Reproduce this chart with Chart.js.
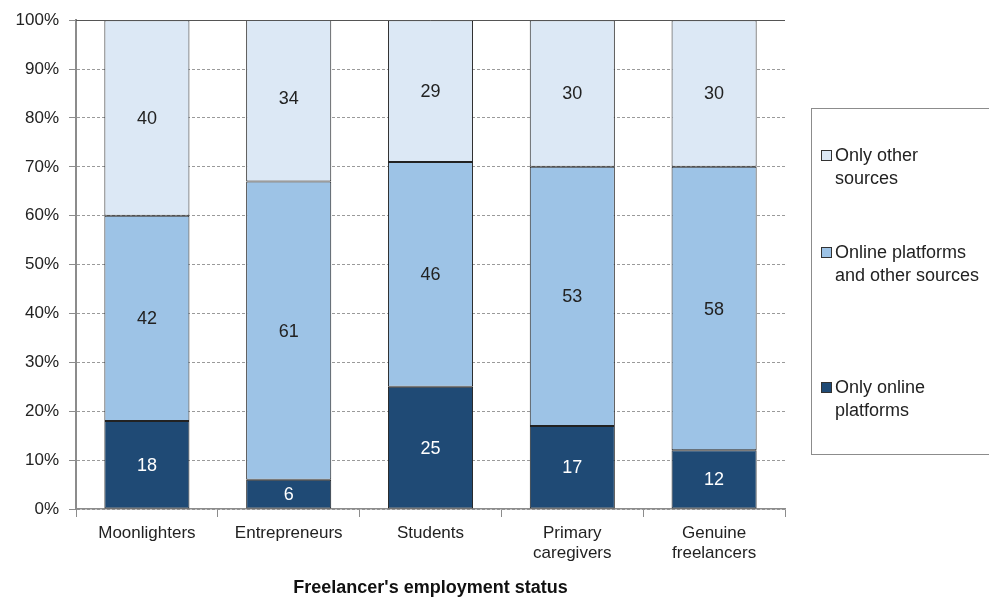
<!DOCTYPE html>
<html>
<head>
<meta charset="utf-8">
<script src="https://cdn.jsdelivr.net/npm/chart.js@4.4.1/dist/chart.umd.min.js"></script>
<style>
  html, body { margin: 0; padding: 0; background: #fff; overflow: hidden; }
  #wrap { position: relative; width: 989px; height: 603px; }
  #legend {
    position: absolute; left: 811px; top: 108px; width: 200px; height: 347px;
    border: 1px solid #8c8c8c; box-sizing: border-box;
    font-family: "Liberation Sans", Arial, sans-serif; font-size: 18px; color: #222;
    white-space: nowrap;
  }
  .item { position: absolute; left: 9px; line-height: 23px; padding-left: 14px; }
  .item span.box {
    position: absolute; left: 0; top: 6px; width: 11px; height: 11px;
    border: 1px solid #333; box-sizing: border-box;
  }
</style>
</head>
<body>
<div id="wrap">
  <canvas id="chart" width="989" height="603"></canvas>
  <div id="legend"></div>
</div>
<script>
const categories = ['Moonlighters', 'Entrepreneurs', 'Students', ['Primary', 'caregivers'], ['Genuine', 'freelancers']];
const onlyOnline = [18, 6, 25, 17, 12];
const onlineAndOther = [42, 61, 46, 53, 58];
const onlyOther = [40, 34, 29, 30, 30];
const yTicks = [0, 10, 20, 30, 40, 50, 60, 70, 80, 90, 100];

const colors = ['#1f4a75', '#9dc3e6', '#dce8f5'];
const labelColors = ['#ffffff', '#222222', '#222222'];
const FONT = '"Liberation Sans", Arial, sans-serif';

// legend (top to bottom, as in the picture)
const legendItems = [
    { text: 'Only other<br>sources', color: colors[2], top: 35 },
    { text: 'Online platforms<br>and other sources', color: colors[1], top: 132 },
    { text: 'Only online<br>platforms', color: colors[0], top: 267 }
];
const legend = document.getElementById('legend');
legendItems.forEach(item => {
    legend.innerHTML += `<div class="item" style="top:${item.top}px"><span class="box" style="background:${item.color}"></span>${item.text}</div>`;
});

const barLabels = {
    id: 'barLabels',
    afterDatasetsDraw(chart) {
        const ctx = chart.ctx;
        const area = chart.chartArea;
        // solid top border at 100%
        ctx.save();
        ctx.strokeStyle = '#555';
        ctx.lineWidth = 1;
        ctx.beginPath();
        ctx.moveTo(area.left, Math.round(area.top) + 0.5);
        ctx.lineTo(area.right, Math.round(area.top) + 0.5);
        ctx.stroke();

        ctx.font = '18px ' + FONT;
        ctx.textAlign = 'center';
        ctx.textBaseline = 'middle';
        chart.data.datasets.forEach((ds, i) => {
            const meta = chart.getDatasetMeta(i);
            meta.data.forEach((bar, j) => {
                ctx.fillStyle = labelColors[i];
                ctx.fillText(ds.data[j], bar.x, (bar.y + bar.base) / 2 + 1);
            });
        });
        ctx.restore();
    }
};

new Chart(document.getElementById('chart'), {
    type: 'bar',
    data: {
        labels: categories,
        datasets: [
            { label: 'Only online platforms', data: onlyOnline, backgroundColor: colors[0] },
            { label: 'Online platforms and other sources', data: onlineAndOther, backgroundColor: colors[1] },
            { label: 'Only other sources', data: onlyOther, backgroundColor: colors[2] }
        ].map(d => Object.assign(d, { borderColor: '#222', borderWidth: 1, borderSkipped: false }))
    },
    options: {
        responsive: false,
        animation: false,
        layout: { padding: { top: 8, right: 204, bottom: 0, left: 0 } },
        plugins: { legend: { display: false }, tooltip: { enabled: false } },
        datasets: { bar: { categoryPercentage: 1, barPercentage: 0.6 } },
        scales: {
            x: {
                stacked: true,
                afterFit: s => { s.height = 94; },
                grid: { offset: true, drawOnChartArea: false, color: '#8c8c8c', tickLength: 8 },
                border: { color: '#8c8c8c', width: 1.5 },
                ticks: { color: '#222', padding: 6, font: { family: FONT, size: 17 }, maxRotation: 0 },
                title: {
                    display: true,
                    text: "Freelancer's employment status",
                    color: '#111',
                    font: { family: FONT, size: 18, weight: 'bold' }
                }
            },
            y: {
                stacked: true,
                min: 0,
                max: 100,
                afterFit: s => { s.width = 76; },
                afterBuildTicks: s => { s.ticks = yTicks.map(v => ({ value: v })); },
                grid: { color: '#9a9a9a', tickLength: 7, tickColor: '#8c8c8c', tickBorderDash: [] },
                border: { color: '#8c8c8c', width: 2, dash: [3, 2] },
                ticks: {
                    color: '#222', padding: 10,
                    font: { family: FONT, size: 17 },
                    callback: v => v + '%'
                }
            }
        }
    },
    plugins: [barLabels]
});
</script>
</body>
</html>
